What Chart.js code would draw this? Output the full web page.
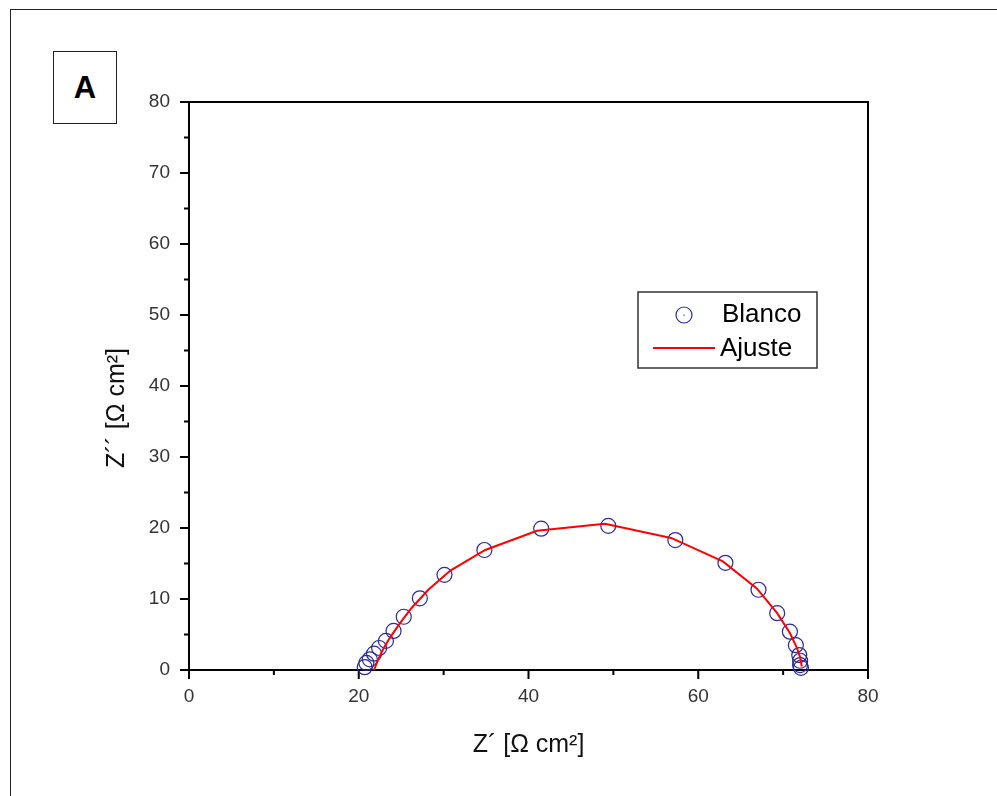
<!DOCTYPE html>
<html>
<head>
<meta charset="utf-8">
<title>Nyquist - Blanco</title>
<script src="https://cdn.jsdelivr.net/npm/chart.js@4.4.1/dist/chart.umd.min.js"></script>
<style>
  html, body { margin: 0; padding: 0; background: #fff; }
  #wrap { position: relative; width: 997px; height: 796px; overflow: hidden; }
  #frame { position: absolute; left: 10px; top: 9px; width: 1000px; height: 800px; border: 1.5px solid #222; }
  #panel { position: absolute; left: 53px; top: 51px; width: 62px; height: 71px; border: 1px solid #222;
           font: bold 31px "Liberation Sans", Arial, sans-serif; display: flex; align-items: center; justify-content: center; }
  #box { position: absolute; left: 0; top: 0; width: 997px; height: 796px; }
</style>
</head>
<body>
<div id="wrap">
  <div id="frame"></div>
  <div id="panel">A</div>
  <div id="box"><canvas id="nyquist"></canvas></div>
</div>
<script>
// Datos experimentales (Blanco) - Z' y Z'' en ohm cm2
const blancoZre = [20.7, 20.9, 21.3, 21.8, 22.4, 23.2, 24.1, 25.3, 27.2, 30.1, 34.8, 41.5, 49.4,
                   57.3, 63.2, 67.1, 69.3, 70.8, 71.5, 71.9, 72.0, 72.0, 72.1];
const blancoZim = [0.4, 1.0, 1.5, 2.3, 3.1, 4.1, 5.5, 7.5, 10.1, 13.4, 16.9, 19.9, 20.3,
                   18.3, 15.1, 11.3, 8.0, 5.4, 3.5, 2.1, 1.3, 0.7, 0.3];

// Ajuste del circuito equivalente
const ajusteZre = [21.8, 22.3, 22.9, 23.7, 24.8, 26.2, 28.2, 30.8, 34.9, 41.0, 49.0,
                   56.8, 62.9, 66.9, 69.3, 70.8, 71.6, 72.0, 72.2];
const ajusteZim = [0.0, 1.5, 3.0, 4.6, 6.5, 8.7, 11.3, 14.0, 16.9, 19.6, 20.6,
                   18.6, 15.3, 11.5, 8.0, 5.2, 3.2, 1.8, 0.5];

const xTicks = [0, 20, 40, 60, 80];
const yTicks = [0, 10, 20, 30, 40, 50, 60, 70, 80];

const xTitle = 'Z´ [Ω cm²]';
const yTitle = 'Z´´ [Ω cm²]';

const FONT = '"Liberation Sans", Arial, sans-serif';

const pairs = (xs, ys) => xs.map((v, i) => ({ x: v, y: ys[i] }));

// marco del grafico + ticks mayores y menores
const frameTicks = {
  id: 'frameTicks',
  beforeDatasetsDraw(chart) {
    const { ctx, chartArea: a, scales: { x, y } } = chart;
    ctx.save();
    ctx.strokeStyle = '#000';
    ctx.lineWidth = 2;
    ctx.strokeRect(a.left, a.top, a.right - a.left, a.bottom - a.top);
    ctx.beginPath();
    for (let i = 0; i < yTicks.length; i++) {
      let py = y.getPixelForValue(yTicks[i]);
      ctx.moveTo(a.left - 9, py); ctx.lineTo(a.left, py);
      if (i < yTicks.length - 1) {
        py = y.getPixelForValue((yTicks[i] + yTicks[i + 1]) / 2);
        ctx.moveTo(a.left - 5, py); ctx.lineTo(a.left, py);
      }
    }
    for (let i = 0; i < xTicks.length; i++) {
      let px = x.getPixelForValue(xTicks[i]);
      ctx.moveTo(px, a.bottom); ctx.lineTo(px, a.bottom + 9);
      if (i < xTicks.length - 1) {
        px = x.getPixelForValue((xTicks[i] + xTicks[i + 1]) / 2);
        ctx.moveTo(px, a.bottom); ctx.lineTo(px, a.bottom + 5);
      }
    }
    ctx.stroke();

    // titulo eje Y (girado)
    ctx.translate(117, 408);
    ctx.rotate(-Math.PI / 2);
    ctx.fillStyle = '#111';
    ctx.font = '25px ' + FONT;
    ctx.textAlign = 'center';
    ctx.textBaseline = 'middle';
    ctx.fillText(yTitle, 0, 0);
    ctx.restore();
  }
};

// leyenda con recuadro
const boxLegend = {
  id: 'boxLegend',
  afterDraw(chart) {
    const ctx = chart.ctx;
    const [ajuste, blanco] = chart.data.datasets;
    ctx.save();
    ctx.strokeStyle = '#333';
    ctx.lineWidth = 1.5;
    ctx.strokeRect(638, 292, 179, 76);
    // Blanco
    ctx.strokeStyle = blanco.borderColor;
    ctx.lineWidth = 1.2;
    ctx.beginPath(); ctx.arc(684, 315, 8, 0, Math.PI * 2); ctx.stroke();
    ctx.fillStyle = blanco.borderColor;
    ctx.fillRect(683.5, 314.5, 1.2, 1.2);
    // Ajuste
    ctx.strokeStyle = ajuste.borderColor;
    ctx.lineWidth = 2;
    ctx.beginPath(); ctx.moveTo(653, 348); ctx.lineTo(715, 348); ctx.stroke();
    ctx.fillStyle = '#000';
    ctx.font = '26px ' + FONT;
    ctx.textBaseline = 'middle';
    ctx.fillText(blanco.label, 722, 315);
    ctx.fillText(ajuste.label, 720, 349);
    ctx.restore();
  }
};

new Chart(document.getElementById('nyquist'), {
  type: 'scatter',
  data: {
    datasets: [
      {
        label: 'Ajuste',
        data: pairs(ajusteZre, ajusteZim),
        showLine: true,
        borderColor: '#ff0000',
        borderWidth: 2,
        pointRadius: 0,
        tension: 0,
        clip: false
      },
      {
        label: 'Blanco',
        data: pairs(blancoZre, blancoZim),
        showLine: false,
        borderColor: '#2a2a9a',
        backgroundColor: 'rgba(0,0,0,0)',
        borderWidth: 1.2,
        pointStyle: 'circle',
        pointRadius: 7.5,
        clip: false
      }
    ]
  },
  options: {
    responsive: true,
    maintainAspectRatio: false,
    animation: false,
    layout: { padding: { left: 100, right: 129, top: 102, bottom: 26 } },
    plugins: { legend: { display: false }, tooltip: { enabled: false } },
    scales: {
      x: {
        type: 'linear', min: 0, max: 80,
        afterFit: s => { s.height = 100; },
        afterBuildTicks: s => { s.ticks = xTicks.map(v => ({ value: v })); },
        grid: { display: false, drawTicks: true, tickLength: 9 },
        border: { display: false },
        ticks: { color: '#333', font: { family: FONT, size: 19 }, padding: 6, maxRotation: 0 },
        title: { display: true, text: xTitle, color: '#111', font: { family: FONT, size: 25 }, padding: { top: 0, bottom: 10 } }
      },
      y: {
        type: 'linear', min: 0, max: 80,
        afterFit: s => { s.width = 89; },
        afterBuildTicks: s => { s.ticks = yTicks.map(v => ({ value: v })); },
        grid: { display: false, drawTicks: true, tickLength: 9 },
        border: { display: false },
        ticks: { color: '#333', font: { family: FONT, size: 19 }, padding: 10 }
      }
    }
  },
  plugins: [frameTicks, boxLegend]
});
</script>
</body>
</html>
